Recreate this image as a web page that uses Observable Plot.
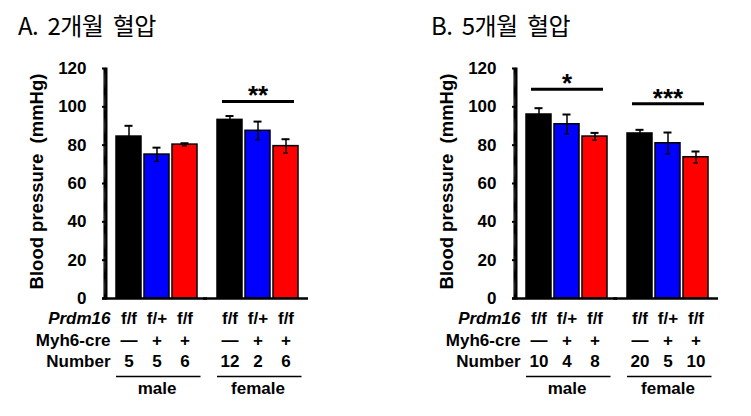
<!DOCTYPE html>
<html><head><meta charset="utf-8">
<script src="https://cdn.jsdelivr.net/npm/d3@7"></script>
<script src="https://cdn.jsdelivr.net/npm/@observablehq/plot@0.6"></script>
<style>
body{margin:0;background:#fff;}
#wrap{position:relative;width:751px;height:416px;overflow:hidden;background:#fff;display:flex;align-items:flex-start;}
#wrap svg{flex:none;max-width:none;}
.title{position:absolute;z-index:2;top:10px;font-family:"Noto Sans CJK KR","Noto Sans",sans-serif;font-size:24px;line-height:30px;white-space:pre;color:#000;letter-spacing:-0.6px;}
</style></head><body>
<div id="wrap"></div>
<script>
// ---- data ----
const sexes = ["male", "female"];
const groups = ["f/f Cre-", "f/+ Cre+", "f/f Cre+"];
const prdm16 = ["f/f", "f/+", "f/f"];
const myh6cre = ["—", "+", "+"];
const barColors = ["#000000", "#0000ff", "#ff0000"];
const rowLabels = ["Prdm16", "Myh6-cre", "Number"];
const yTicks = [0, 20, 40, 60, 80, 100, 120];
const yLabel = "Blood pressure\u00a0\u00a0(mmHg)";

const titleA = "A.  2개월  혈압";
const meanA_male = [84.5, 75.1, 80.3];
const meanA_female = [93.2, 87.5, 79.5];
const errA_male = [5.6, 3.6, 0.7];
const errA_female = [2.0, 4.8, 3.6];
const nA_male = [5, 5, 6];
const nA_female = [12, 2, 6];
const sigA_sex = ["female"];
const sigA_y = [102.8];
const sigA_text = ["**"];

const titleB = "B.  5개월  혈압";
const meanB_male = [96.0, 90.9, 84.5];
const meanB_female = [86.1, 81.0, 73.7];
const errB_male = [3.3, 5.1, 1.9];
const errB_female = [1.9, 5.6, 3.0];
const nB_male = [10, 4, 8];
const nB_female = [20, 5, 10];
const sigB_sex = ["male", "female"];
const sigB_y = [109.2, 101.6];
const sigB_text = ["*", "***"];

// ---- layout ----
const W = 340, ML = 106, MR = 32;
// dense positions used only to draw a solid y-axis spine with the axis mark
const spineTicks = d3.range(yTicks[0], yTicks[yTicks.length - 1] + 0.001, 0.5);

function buildRows(mM, mF, eM, eF, nM, nF) {
  const rows = [];
  sexes.forEach((s, si) => groups.forEach((g, gi) => rows.push({
    sex: s, group: g, prdm: prdm16[gi], cre: myh6cre[gi], color: barColors[gi],
    mean: [mM, mF][si][gi], err: [eM, eF][si][gi], n: String([nM, nF][si][gi])
  })));
  return rows;
}
function buildSig(sx, ys, ts) { return sx.map((s, i) => ({sex: s, y: ys[i], stars: ts[i]})); }

function panel(rows, sig) {
  const labelRows = rowLabels.map(l => ({sex: "male", label: l}));
  const rowText = (field, dy) => Plot.text(rows, {fx: "sex", x: "group", text: field, frameAnchor: "bottom", lineAnchor: "bottom", dy});
  const rowLabel = (i, dy, extra = {}) => Plot.text([labelRows[i]], {fx: "sex", text: "label", frameAnchor: "bottom-left", textAnchor: "end", lineAnchor: "bottom", dx: 4, dy, ...extra});
  return Plot.plot({
    width: W, height: 416,
    marginLeft: ML, marginRight: MR, marginTop: 68, marginBottom: 118,
    style: {fontFamily: '"Liberation Sans", Arial, sans-serif', fontSize: "17px", fontWeight: "bold", background: "transparent", overflow: "visible"},
    fx: {domain: sexes, padding: 0, axis: null},
    x: {domain: groups, paddingInner: 0.1, paddingOuter: 0.3, axis: null},
    y: {domain: [0, 120]},
    marks: [
      Plot.axisY({ticks: yTicks, tickSize: 4, tickPadding: 16, strokeWidth: 2, label: null, fontSize: 17}),
      Plot.axisY({ticks: spineTicks, tickSize: 2.5, tickFormat: () => "", strokeWidth: 1.2, label: null}),
      Plot.frame({anchor: "left", facetAnchor: "left", stroke: "#000", strokeWidth: 2}),
      Plot.text([{sex: "male", label: yLabel}], {fx: "sex", text: "label", frameAnchor: "left", textAnchor: "middle", rotate: -90, dx: -69, dy: -2, fontSize: 18.5}),
      Plot.barY(rows, {fx: "sex", x: "group", y: "mean", fill: "color", stroke: "#000", strokeWidth: 1.5}),
      Plot.ruleX(rows, {fx: "sex", x: "group", y1: d => d.mean - d.err, y2: d => d.mean + d.err, stroke: "#000", strokeWidth: 1.5}),
      Plot.tickY(rows, {fx: "sex", x: "group", y: d => d.mean + d.err, insetLeft: 8.5, insetRight: 8.5, stroke: "#000", strokeWidth: 2}),
      Plot.tickY(rows, {fx: "sex", x: "group", y: d => d.mean - d.err, insetLeft: 10, insetRight: 10, stroke: "#000", strokeWidth: 1.2}),
      Plot.ruleY([0], {stroke: "#000", strokeWidth: 2.5, insetLeft: -4}),
      Plot.ruleY(sig, {fx: "sex", y: "y", insetLeft: 15, insetRight: 14, stroke: "#000", strokeWidth: 3}),
      Plot.text(sig, {fx: "sex", y: "y", text: "stars", lineAnchor: "bottom", fontSize: 26, dy: 3}),
      rowText("prdm", 25),
      rowText("cre", 47.5),
      rowText("n", 68),
      rowLabel(0, 25, {fontStyle: "italic"}),
      rowLabel(1, 47.5),
      rowLabel(2, 68),
      Plot.ruleY([0], {stroke: "#000", strokeWidth: 1.5, insetLeft: 10, insetRight: 6.5, dy: 78}),
      Plot.text(sexes, {fx: d => d, text: d => d, frameAnchor: "bottom", lineAnchor: "bottom", dy: 95})
    ]
  });
}

const wrap = document.getElementById("wrap");
function addPanel(marginLeft, titleLeft, title, rows, sig) {
  const svg = panel(rows, sig);
  svg.style.marginLeft = marginLeft + "px";
  wrap.appendChild(svg);
  const t = document.createElement("div");
  t.className = "title";
  t.style.left = titleLeft + "px";
  t.textContent = title;
  wrap.appendChild(t);
}
addPanel(0, 18, titleA, buildRows(meanA_male, meanA_female, errA_male, errA_female, nA_male, nA_female), buildSig(sigA_sex, sigA_y, sigA_text));
addPanel(70, 431, titleB, buildRows(meanB_male, meanB_female, errB_male, errB_female, nB_male, nB_female), buildSig(sigB_sex, sigB_y, sigB_text));
</script>
</body></html>
